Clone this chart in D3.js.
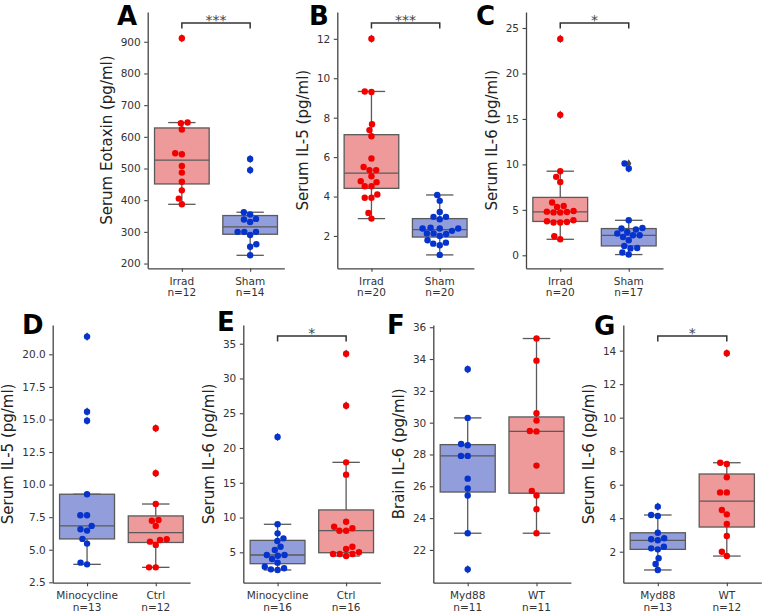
<!DOCTYPE html>
<html>
<head>
<meta charset="utf-8">
<script src="https://cdn.jsdelivr.net/npm/d3@7"></script>
<style>
  html, body { margin: 0; padding: 0; background: #fff; }
  svg { display: block; }
  text { font-family: "DejaVu Sans", sans-serif; }
</style>
</head>
<body>
<script>
// ---------------- DATA ----------------
// Panel A: Serum Eotaxin
const catsA = ["Irrad", "Sham"];
const irradA = [911, 645, 643, 623, 548, 545, 508, 487, 458, 431, 405, 387];
const shamA = [530, 495, 362, 355, 341, 339, 331, 300, 300, 300, 290, 261, 253, 226];
const ticksA = [200, 300, 400, 500, 600, 700, 800, 900];

// Panel B: Serum IL-5
const catsB = ["Irrad", "Sham"];
const irradB = [12.0, 9.33, 9.30, 7.67, 7.37, 7.06, 5.93, 5.50, 5.34, 5.34, 5.03, 4.78, 4.73, 4.52, 4.52, 4.10, 3.94, 3.94, 3.17, 2.88];
const shamB = [4.08, 3.78, 3.22, 2.97, 2.97, 2.85, 2.42, 2.38, 2.38, 2.38, 2.26, 2.13, 2.13, 2.10, 2.00, 1.78, 1.66, 1.61, 1.53, 1.04];
const ticksB = [2, 4, 6, 8, 10, 12];

// Panel C: Serum IL-6
const catsC = ["Irrad", "Sham"];
const irradC = [23.8, 15.45, 9.25, 8.63, 8.07, 5.80, 5.43, 5.32, 4.88, 4.80, 4.77, 4.72, 4.70, 3.85, 3.74, 3.67, 3.60, 3.60, 2.09, 1.76];
const shamC = [10.1, 9.55, 3.85, 3.00, 2.94, 2.83, 2.57, 2.39, 2.20, 2.20, 2.02, 1.65, 1.03, 0.81, 0.76, 0.30, 0.08];
const ticksC = [0, 5, 10, 15, 20, 25];

// Panel D: Serum IL-5
const catsD = ["Minocycline", "Ctrl"];
const minoD = [21.36, 15.6, 14.9, 9.26, 7.65, 7.65, 6.83, 6.57, 6.47, 5.83, 5.47, 4.01, 3.88];
const ctrlD = [14.32, 10.87, 8.51, 7.29, 7.23, 6.83, 5.80, 5.75, 5.62, 5.37, 3.65, 3.65];
const ticksD = [2.5, 5.0, 7.5, 10.0, 12.5, 15.0, 17.5, 20.0];

// Panel E: Serum IL-6
const catsE = ["Minocycline", "Ctrl"];
const minoE = [21.58, 9.03, 7.73, 7.01, 6.62, 5.81, 5.33, 4.61, 4.61, 4.51, 4.04, 3.51, 2.93, 2.70, 2.55, 2.46];
const ctrlE = [33.56, 26.09, 17.94, 16.17, 9.40, 8.68, 8.45, 8.11, 8.11, 5.81, 5.47, 5.00, 4.76, 4.76, 4.76, 4.47];
const ticksE = [5, 10, 15, 20, 25, 30, 35];

// Panel F: Brain IL-6
const catsF = ["Myd88", "WT"];
const myd88F = [33.36, 30.30, 28.66, 28.58, 27.91, 27.91, 26.48, 25.86, 25.42, 23.05, 20.78];
const wtF = [35.29, 33.90, 30.59, 30.13, 29.48, 29.45, 27.30, 25.71, 25.42, 24.56, 23.05];
const ticksF = [22, 24, 26, 28, 30, 32, 34, 36];

// Panel G: Serum IL-6
const catsG = ["Myd88", "WT"];
const myd88G = [4.69, 4.19, 4.13, 3.13, 2.80, 2.74, 2.68, 2.30, 2.20, 2.14, 1.61, 1.27, 0.91];
const wtG = [13.84, 7.31, 7.23, 6.44, 5.54, 5.54, 4.49, 4.23, 3.65, 2.94, 2.00, 1.74];
const ticksG = [2, 4, 6, 8, 10, 12, 14];

// ---------------- STYLE / LAYOUT ----------------
const RED = "#f20000", BLUE = "#0533cc";
const RED_BOX = "#ee9a9a", BLUE_BOX = "#929ddb";
const EDGE = "#5a5a5a";

const panels = [
  { letter: "A", label: "Serum Eotaxin (pg/ml)", cats: catsA, series: [irradA, shamA], colors: [RED, BLUE], boxes: [RED_BOX, BLUE_BOX],
    ticks: ticksA, fmt: d3.format("d"), domain: [185, 994], x0: 147.7, x1: 284.3, top: 12, bottom: 268.3, lx: 117, ly: 25, sig: "***" },
  { letter: "B", label: "Serum IL-5 (pg/ml)", cats: catsB, series: [irradB, shamB], colors: [RED, BLUE], boxes: [RED_BOX, BLUE_BOX],
    ticks: ticksB, fmt: d3.format("d"), domain: [0.36, 13.36], x0: 337.3, x1: 473.9, top: 12, bottom: 268.3, lx: 309, ly: 24.5, sig: "***" },
  { letter: "C", label: "Serum IL-6 (pg/ml)", cats: catsC, series: [irradC, shamC], colors: [RED, BLUE], boxes: [RED_BOX, BLUE_BOX],
    ticks: ticksC, fmt: d3.format("d"), domain: [-1.43, 26.76], x0: 526, x1: 663, top: 12, bottom: 268.3, lx: 476, ly: 24.5, sig: "*" },
  { letter: "D", label: "Serum IL-5 (pg/ml)", cats: catsD, series: [minoD, ctrlD], colors: [BLUE, RED], boxes: [BLUE_BOX, RED_BOX],
    ticks: ticksD, fmt: d3.format(".1f"), domain: [2.47, 22.25], x0: 52.7, x1: 190.1, top: 325, bottom: 582.7, lx: 22, ly: 333.5, sig: null },
  { letter: "E", label: "Serum IL-6 (pg/ml)", cats: catsE, series: [minoE, ctrlE], colors: [BLUE, RED], boxes: [BLUE_BOX, RED_BOX],
    ticks: ticksE, fmt: d3.format("d"), domain: [0.63, 37.69], x0: 243.3, x1: 380.4, top: 325, bottom: 582.7, lx: 217, ly: 331.3, sig: "*" },
  { letter: "F", label: "Brain IL-6 (pg/ml)", cats: catsF, series: [myd88F, wtF], colors: [BLUE, RED], boxes: [BLUE_BOX, RED_BOX],
    ticks: ticksF, fmt: d3.format("d"), domain: [19.94, 36.14], x0: 433.3, x1: 570.9, top: 325, bottom: 582.7, lx: 387, ly: 333.5, sig: null },
  { letter: "G", label: "Serum IL-6 (pg/ml)", cats: catsG, series: [myd88G, wtG], colors: [BLUE, RED], boxes: [BLUE_BOX, RED_BOX],
    ticks: ticksG, fmt: d3.format("d"), domain: [0.15, 15.53], x0: 623.3, x1: 761.3, top: 325, bottom: 582.7, lx: 594, ly: 334.5, sig: "*" }
];

// ---------------- HELPERS ----------------
function boxStats(vals) {
  const s = vals.slice().sort(d3.ascending);
  const q1 = d3.quantileSorted(s, 0.25), med = d3.quantileSorted(s, 0.5), q3 = d3.quantileSorted(s, 0.75);
  const iqr = q3 - q1, lo = q1 - 1.5 * iqr, hi = q3 + 1.5 * iqr;
  const inside = s.filter(v => v >= lo && v <= hi);
  return { q1, med, q3, wlo: d3.min(inside), whi: d3.max(inside), fliers: s.filter(v => v < lo || v > hi) };
}

// seaborn-like beeswarm in pixel space
function beeswarm(ys, cx, d) {
  const order = d3.range(ys.length).sort((a, b) => ys[b] - ys[a]); // bottom (largest px) first
  const placed = [];
  const xs = new Array(ys.length);
  for (const i of order) {
    const yi = ys[i];
    const neigh = placed.filter(p => Math.abs(p.y - yi) < d);
    const cands = [cx];
    let leftFirst = true;
    for (const p of neigh) {
      const dy = yi - p.y;
      const dx = Math.sqrt(Math.max(d * d - dy * dy, 0)) * 1.05;
      if (leftFirst) cands.push(p.x - dx, p.x + dx); else cands.push(p.x + dx, p.x - dx);
      leftFirst = !leftFirst;
    }
    const sorted = cands.map((c, k) => ({ c, k })).sort((a, b) => (Math.abs(a.c - cx) - Math.abs(b.c - cx)) || (a.k - b.k));
    let best = cx;
    for (const { c } of sorted) {
      if (neigh.every(p => (p.x - c) ** 2 + (p.y - yi) ** 2 >= d * d - 1e-6)) { best = c; break; }
    }
    xs[i] = best;
    placed.push({ x: best, y: yi });
  }
  return xs;
}

// ---------------- DRAW ----------------
const svg = d3.select("body").append("svg").attr("width", 764).attr("height", 612);
const R = 3.2, DIAM = 6.4;

panels.forEach(p => {
  const g = svg.append("g");
  const y = d3.scaleLinear().domain(p.domain).range([p.bottom, p.top]);
  const x = d3.scalePoint().domain(p.cats).range([p.x0, p.x1]).padding(0.5);
  const step = x.step();
  const bw = step * 0.8;

  // boxes
  p.series.forEach((vals, gi) => {
    const cx = x(p.cats[gi]);
    const st = boxStats(vals);
    const bg = g.append("g");
    bg.append("line").attr("x1", cx).attr("x2", cx).attr("y1", y(st.q3)).attr("y2", y(st.whi))
      .attr("stroke", EDGE).attr("stroke-width", 1.3);
    bg.append("line").attr("x1", cx).attr("x2", cx).attr("y1", y(st.q1)).attr("y2", y(st.wlo))
      .attr("stroke", EDGE).attr("stroke-width", 1.3);
    [st.whi, st.wlo].forEach(v => {
      bg.append("line").attr("x1", cx - bw / 4).attr("x2", cx + bw / 4).attr("y1", y(v)).attr("y2", y(v))
        .attr("stroke", EDGE).attr("stroke-width", 1.3);
    });
    bg.append("rect").attr("x", cx - bw / 2).attr("width", bw)
      .attr("y", y(st.q3)).attr("height", y(st.q1) - y(st.q3))
      .attr("fill", p.boxes[gi]).attr("stroke", EDGE).attr("stroke-width", 1.3);
    bg.append("line").attr("x1", cx - bw / 2).attr("x2", cx + bw / 2).attr("y1", y(st.med)).attr("y2", y(st.med))
      .attr("stroke", EDGE).attr("stroke-width", 1.3);
    st.fliers.forEach(v => {
      const fy = y(v);
      bg.append("path").attr("d", `M${cx},${fy - 4.3}L${cx + 2.6},${fy}L${cx},${fy + 4.3}L${cx - 2.6},${fy}Z`)
        .attr("fill", "#4a4a4a");
    });
  });

  // swarm points
  p.series.forEach((vals, gi) => {
    const cx = x(p.cats[gi]);
    const ys = vals.map(v => y(v));
    const xs = beeswarm(ys, cx, DIAM);
    g.append("g").selectAll("circle").data(vals).join("circle")
      .attr("cx", (d, i) => xs[i]).attr("cy", d => y(d)).attr("r", R)
      .attr("fill", p.colors[gi]);
  });

  // y axis
  const ya = g.append("g").attr("transform", `translate(${p.x0},0)`)
    .call(d3.axisLeft(y).tickValues(p.ticks).tickFormat(p.fmt).tickSize(3.5).tickSizeOuter(0).tickPadding(3.5));
  ya.select(".domain").attr("stroke", "#444").attr("stroke-width", 1.3);
  ya.selectAll(".tick line").attr("stroke", "#444").attr("stroke-width", 1.1);
  ya.selectAll(".tick text").attr("font-size", 10.5).attr("fill", "#333").attr("font-family", "DejaVu Sans");

  // x axis
  const xa = g.append("g").attr("transform", `translate(0,${p.bottom})`)
    .call(d3.axisBottom(x).tickSize(3.5).tickSizeOuter(0).tickFormat(""));
  xa.select(".domain").attr("stroke", "#444").attr("stroke-width", 1.3);
  xa.selectAll(".tick line").attr("stroke", "#444").attr("stroke-width", 1.1);
  p.cats.forEach((c, gi) => {
    const t = g.append("text").attr("x", x(c)).attr("text-anchor", "middle")
      .attr("font-size", 10.5).attr("fill", "#333");
    t.append("tspan").attr("x", x(c)).attr("y", p.bottom + 16.6).text(c);
    t.append("tspan").attr("x", x(c)).attr("y", p.bottom + 28).text("n=" + p.series[gi].length);
  });

  // y label
  let maxW = 0;
  ya.selectAll(".tick text").each(function () { maxW = Math.max(maxW, this.getComputedTextLength()); });
  const lx = p.x0 - 21 - maxW;
  const ly = (p.top + p.bottom) / 2;
  g.append("text").attr("transform", `translate(${lx},${ly}) rotate(-90)`)
    .attr("text-anchor", "middle").attr("dominant-baseline", "central")
    .attr("font-size", 15).attr("fill", "#222").text(p.label);

  // significance bracket
  if (p.sig) {
    const x1 = x(p.cats[0]), x2 = x(p.cats[1]);
    const by = p.top + 11, leg = 5.5;
    g.append("path").attr("d", `M${x1},${by + leg}V${by}H${x2}V${by + leg}`)
      .attr("fill", "none").attr("stroke", "#333").attr("stroke-width", 1.5);
    g.append("text").attr("x", (x1 + x2) / 2).attr("y", by + 2.2).attr("text-anchor", "middle")
      .attr("font-size", 14).attr("fill", "#444").text(p.sig);
  }

  // panel letter
  svg.append("text").attr("x", p.lx).attr("y", p.ly)
    .attr("font-family", "DejaVu Sans").attr("font-weight", "bold").attr("font-size", 26)
    .attr("fill", "#000").text(p.letter);
});
</script>
</body>
</html>
